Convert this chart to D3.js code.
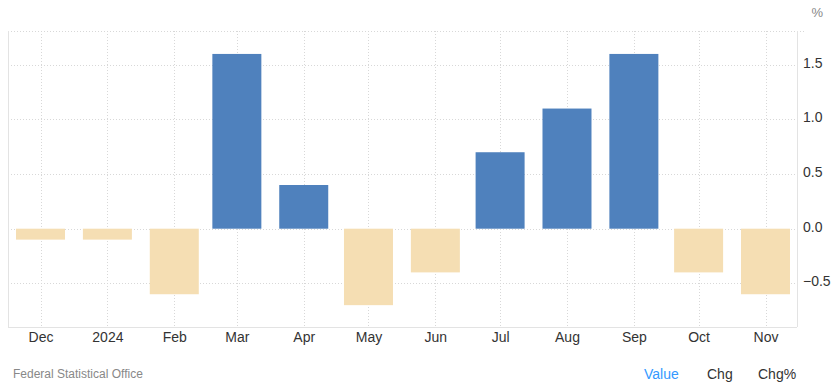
<!DOCTYPE html>
<html>
<head>
<meta charset="utf-8">
<script src="https://cdn.jsdelivr.net/npm/d3@7"></script>
<style>
  body { margin: 0; background: #fff; font-family: "Liberation Sans", Arial, sans-serif; }
  .grid line { stroke: #d8d8d8; stroke-dasharray: 1,2; }
</style>
</head>
<body>
<div id="chart"></div>
<script>
// monthly change, %
var months = ["2023-12-01","2024-01-01","2024-02-01","2024-03-01","2024-04-01","2024-05-01",
              "2024-06-01","2024-07-01","2024-08-01","2024-09-01","2024-10-01","2024-11-01"];
var tickLabels = ["Dec","2024","Feb","Mar","Apr","May","Jun","Jul","Aug","Sep","Oct","Nov"];
var values = [-0.1, -0.1, -0.6, 1.6, 0.4, -0.7, -0.4, 0.7, 1.1, 1.6, -0.4, -0.6];
var yTicks = [-0.5, 0, 0.5, 1.0, 1.5];

var width = 832, height = 392,
    plotL = 8, plotR = 797, plotT = 31, plotB = 327,
    barW = 49;

var parse = d3.utcParse("%Y-%m-%d");
var dates = months.map(parse);

var svg = d3.select("#chart").append("svg")
    .attr("width", width)
    .attr("height", height);

// time scale, so the gaps follow the month lengths
var x = d3.scaleUtc()
    .domain([dates[0], dates[dates.length-1]])
    .range([plotL + 32.5, plotR - 31.5]);

var y = d3.scaleLinear()
    .domain([-0.9, 1.81])
    .range([plotB, plotT]);

// horizontal grid
svg.append("g").attr("class", "grid")
  .selectAll("line")
  .data(yTicks.concat([1.81]))
  .enter().append("line")
    .attr("x1", plotL).attr("x2", function(d){ return d == 1.81 ? plotR + 8 : plotR; })
    .attr("y1", function(d){ return Math.round(y(d)) + 0.5; })
    .attr("y2", function(d){ return Math.round(y(d)) + 0.5; });

// vertical grid
svg.append("g").attr("class", "grid")
  .selectAll("line")
  .data(dates)
  .enter().append("line")
    .attr("x1", function(d){ return Math.round(x(d)) + 0.5; })
    .attr("x2", function(d){ return Math.round(x(d)) + 0.5; })
    .attr("y1", plotT).attr("y2", plotB);

// bars
svg.append("g")
  .selectAll("rect")
  .data(values)
  .enter().append("rect")
    .attr("x", function(d, i){ return x(dates[i]) - barW/2; })
    .attr("width", barW)
    .attr("y", function(d){ return y(Math.max(0, d)); })
    .attr("height", function(d){ return Math.abs(y(d) - y(0)); })
    .attr("fill", function(d){ return d >= 0 ? "#4f81bd" : "#f5deb3"; });

// frame lines
svg.append("line").attr("x1", plotL + 0.5).attr("x2", plotL + 0.5).attr("y1", plotT).attr("y2", plotB)
   .attr("stroke", "#e3e3e3");
svg.append("line").attr("x1", plotR + 0.5).attr("x2", plotR + 0.5).attr("y1", plotT).attr("y2", plotB)
   .attr("stroke", "#e3e3e3");
svg.append("line").attr("x1", plotL).attr("x2", plotR).attr("y1", plotB + 0.5).attr("y2", plotB + 0.5)
   .attr("stroke", "#e3e3e3");

// x axis labels
var xAxis = d3.axisBottom(x)
    .tickValues(dates)
    .tickSize(0)
    .tickPadding(5)
    .tickFormat(function(d, i){ return tickLabels[i]; });
var gx = svg.append("g")
    .attr("transform", "translate(0," + plotB + ")")
    .call(xAxis);
gx.select(".domain").remove();
gx.selectAll("text")
    .attr("fill", "#333")
    .style("font-size", "14px")
    .style("font-family", "Liberation Sans, Arial, sans-serif");

// y axis labels on the right
var yAxis = d3.axisRight(y)
    .tickValues(yTicks)
    .tickSize(0)
    .tickPadding(6)
    .tickFormat(d3.format(".1f"));
var gy = svg.append("g")
    .attr("transform", "translate(" + plotR + ",-2)")
    .call(yAxis);
gy.select(".domain").remove();
gy.selectAll("text")
    .attr("fill", "#333")
    .style("font-size", "14px")
    .style("font-family", "Liberation Sans, Arial, sans-serif");

// unit
svg.append("text")
    .attr("x", 823).attr("y", 17)
    .attr("text-anchor", "end")
    .attr("fill", "#888")
    .style("font-size", "13px")
    .text("%");

// source
svg.append("text")
    .attr("x", 13).attr("y", 378)
    .attr("fill", "#888")
    .style("font-size", "12px")
    .text("Federal Statistical Office");

// tabs
var tabs = [["Value", 644, "#3399ff"], ["Chg", 707, "#333"], ["Chg%", 758, "#333"]];
svg.append("g").selectAll("text")
  .data(tabs)
  .enter().append("text")
    .attr("x", function(d){ return d[1]; })
    .attr("y", 379)
    .attr("fill", function(d){ return d[2]; })
    .style("font-size", "14px")
    .text(function(d){ return d[0]; });
</script>
</body>
</html>
